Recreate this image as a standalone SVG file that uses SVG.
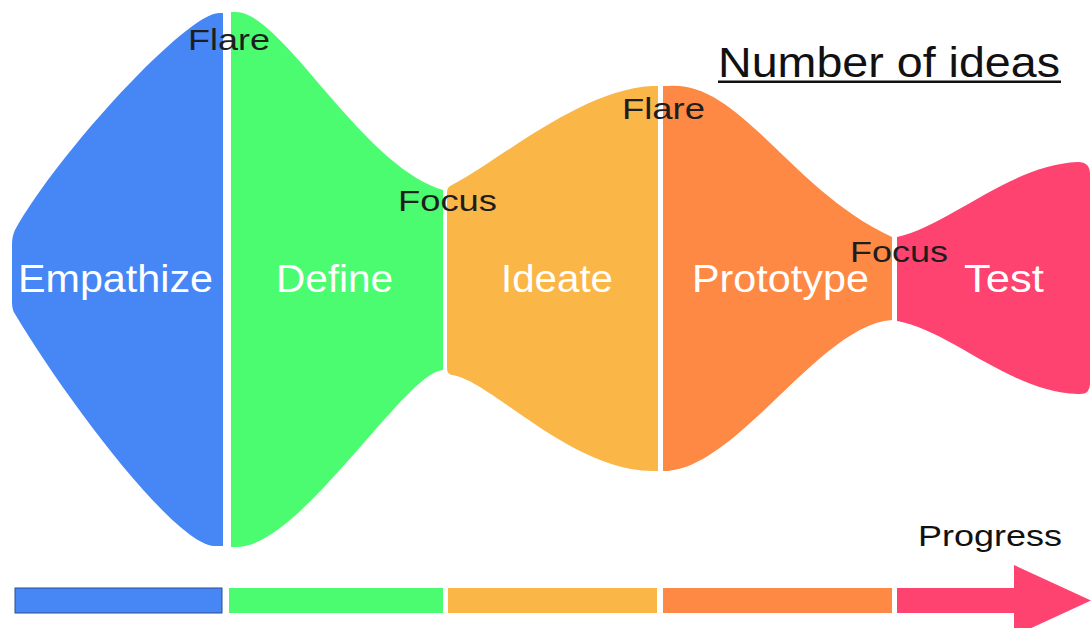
<svg xmlns="http://www.w3.org/2000/svg" width="1091" height="628" viewBox="0 0 1091 628">
<style>
.lbl{font-family:"Liberation Sans",Arial,sans-serif;font-size:38px;fill:#ffffff}
.note{font-family:"Liberation Sans",Arial,sans-serif;font-size:30px;fill:#1e1e1e}
.title{font-family:"Liberation Sans",Arial,sans-serif;font-size:42px;fill:#111111}
.blue{fill:#4786F5}
.green{fill:#4CFC70}
.yellow{fill:#FBB648}
.orange{fill:#FD8944}
.pink{fill:#FE4370}
</style>
<rect width="1091" height="628" fill="#ffffff"/>
<g id="empathize">
<path class="blue" d="M223,13 L220,13 C190,10 60,150 15,230 Q12,236 12,245 L12,302 Q12,310 15,314 C60,390 170,540 213,546 L223,546 Z"/>
<text class="lbl" x="18" y="292" textLength="195" lengthAdjust="spacingAndGlyphs">Empathize</text>
</g>
<g id="define">
<path class="green" d="M231,12 L234,12 C280,8 360,165 443,190 L443,370 C405,372 300,548 236,547 L231,547 Z"/>
<text class="lbl" x="276" y="292" textLength="117" lengthAdjust="spacingAndGlyphs">Define</text>
</g>
<g id="ideate">
<path class="yellow" d="M447,192 Q447,187 452,185 C500,160 580,90 652,86 L658,86 L658,471 L652,471 C570,470 490,380 452,375 Q447,374 447,368 Z"/>
<text class="lbl" x="501" y="292" textLength="112" lengthAdjust="spacingAndGlyphs">Ideate</text>
</g>
<g id="prototype">
<path class="orange" d="M663,86 L668,86 C740,80 790,190 892,237 L892,320 C820,325 740,465 668,471 L663,471 Z"/>
<text class="lbl" x="692" y="292" textLength="177" lengthAdjust="spacingAndGlyphs">Prototype</text>
</g>
<g id="test">
<path class="pink" d="M897,237 C950,225 1010,165 1078,162 Q1090,162 1090,174 L1090,384 Q1090,395 1078,394 C1010,392 950,330 897,321 Z"/>
<text class="lbl" x="964" y="292" textLength="80" lengthAdjust="spacingAndGlyphs">Test</text>
</g>
<g id="annotations">
<text class="note" x="188" y="50" textLength="82" lengthAdjust="spacingAndGlyphs">Flare</text>
<text class="note" x="398" y="211" textLength="99" lengthAdjust="spacingAndGlyphs">Focus</text>
<text class="note" x="622" y="119" textLength="83" lengthAdjust="spacingAndGlyphs">Flare</text>
<text class="note" x="850" y="262" textLength="98" lengthAdjust="spacingAndGlyphs">Focus</text>
</g>
<g id="number-of-ideas">
<text class="title" x="718" y="77" textLength="342" lengthAdjust="spacingAndGlyphs">Number of ideas</text>
<rect x="718" y="80.5" width="343" height="2.5" fill="#111111"/>
</g>
<g id="progress">
<rect class="blue" x="15" y="588" width="207" height="25" stroke="#2b4f8f" stroke-width="1"/>
<rect class="green" x="229" y="588" width="214" height="25"/>
<rect class="yellow" x="448" y="588" width="209" height="25"/>
<rect class="orange" x="663" y="588" width="229" height="25"/>
<path class="pink" d="M897,588 L1014,588 L1014,565 L1091,600.5 L1014,636 L1014,613 L897,613 Z"/>
<text class="note" x="918" y="546" textLength="144" lengthAdjust="spacingAndGlyphs" style="fill:#111111">Progress</text>
</g>
</svg>
